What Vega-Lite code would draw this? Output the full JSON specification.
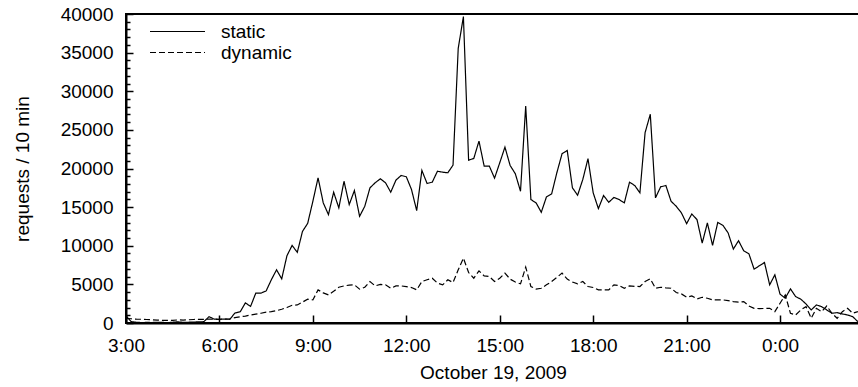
{
  "$schema": "https://vega.github.io/schema/vega-lite/v6.json",
  "autosize": {"type": "fit", "contains": "padding"},
  "width": 858,
  "height": 387,
  "padding": {"left": 13, "top": 5, "right": -2, "bottom": 5},
  "data": {"values": [
    {"t":"2009-10-19T03:00","static":910,"dynamic":600},
    {"t":"2009-10-19T03:10","static":170,"dynamic":550},
    {"t":"2009-10-19T03:20","static":100,"dynamic":500},
    {"t":"2009-10-19T03:30","static":50,"dynamic":480},
    {"t":"2009-10-19T03:40","static":80,"dynamic":450},
    {"t":"2009-10-19T03:50","static":60,"dynamic":420},
    {"t":"2009-10-19T04:00","static":100,"dynamic":380},
    {"t":"2009-10-19T04:10","static":80,"dynamic":350},
    {"t":"2009-10-19T04:20","static":50,"dynamic":330},
    {"t":"2009-10-19T04:30","static":100,"dynamic":350},
    {"t":"2009-10-19T04:40","static":150,"dynamic":400},
    {"t":"2009-10-19T04:50","static":80,"dynamic":380},
    {"t":"2009-10-19T05:00","static":100,"dynamic":420},
    {"t":"2009-10-19T05:10","static":120,"dynamic":450},
    {"t":"2009-10-19T05:20","static":150,"dynamic":480},
    {"t":"2009-10-19T05:30","static":170,"dynamic":480},
    {"t":"2009-10-19T05:40","static":820,"dynamic":500},
    {"t":"2009-10-19T05:50","static":500,"dynamic":480},
    {"t":"2009-10-19T06:00","static":480,"dynamic":480},
    {"t":"2009-10-19T06:10","static":500,"dynamic":500},
    {"t":"2009-10-19T06:20","static":480,"dynamic":550},
    {"t":"2009-10-19T06:30","static":1300,"dynamic":700},
    {"t":"2009-10-19T06:40","static":1450,"dynamic":800},
    {"t":"2009-10-19T06:50","static":2600,"dynamic":900},
    {"t":"2009-10-19T07:00","static":2150,"dynamic":1040},
    {"t":"2009-10-19T07:10","static":3860,"dynamic":1150},
    {"t":"2009-10-19T07:20","static":3860,"dynamic":1260},
    {"t":"2009-10-19T07:30","static":4160,"dynamic":1400},
    {"t":"2009-10-19T07:40","static":5600,"dynamic":1470},
    {"t":"2009-10-19T07:50","static":6880,"dynamic":1600},
    {"t":"2009-10-19T08:00","static":5720,"dynamic":1780},
    {"t":"2009-10-19T08:10","static":8700,"dynamic":2000},
    {"t":"2009-10-19T08:20","static":10040,"dynamic":2300},
    {"t":"2009-10-19T08:30","static":9150,"dynamic":2340},
    {"t":"2009-10-19T08:40","static":11860,"dynamic":2700},
    {"t":"2009-10-19T08:50","static":12900,"dynamic":3080},
    {"t":"2009-10-19T09:00","static":15760,"dynamic":2990},
    {"t":"2009-10-19T09:10","static":18800,"dynamic":4290},
    {"t":"2009-10-19T09:20","static":15550,"dynamic":3900},
    {"t":"2009-10-19T09:30","static":14030,"dynamic":3640},
    {"t":"2009-10-19T09:40","static":16930,"dynamic":4100},
    {"t":"2009-10-19T09:50","static":14900,"dynamic":4630},
    {"t":"2009-10-19T10:00","static":18350,"dynamic":4800},
    {"t":"2009-10-19T10:10","static":15330,"dynamic":4900},
    {"t":"2009-10-19T10:20","static":17150,"dynamic":4940},
    {"t":"2009-10-19T10:30","static":13810,"dynamic":4380},
    {"t":"2009-10-19T10:40","static":15110,"dynamic":4630},
    {"t":"2009-10-19T10:50","static":17500,"dynamic":5370},
    {"t":"2009-10-19T11:00","static":18150,"dynamic":4800},
    {"t":"2009-10-19T11:10","static":18670,"dynamic":5000},
    {"t":"2009-10-19T11:20","static":18150,"dynamic":4940},
    {"t":"2009-10-19T11:30","static":16930,"dynamic":4500},
    {"t":"2009-10-19T11:40","static":18490,"dynamic":4800},
    {"t":"2009-10-19T11:50","static":19100,"dynamic":4800},
    {"t":"2009-10-19T12:00","static":18930,"dynamic":4700},
    {"t":"2009-10-19T12:10","static":17280,"dynamic":4590},
    {"t":"2009-10-19T12:20","static":14550,"dynamic":4290},
    {"t":"2009-10-19T12:30","static":19750,"dynamic":5370},
    {"t":"2009-10-19T12:40","static":18060,"dynamic":5600},
    {"t":"2009-10-19T12:50","static":18230,"dynamic":5800},
    {"t":"2009-10-19T13:00","static":19650,"dynamic":5160},
    {"t":"2009-10-19T13:10","static":19520,"dynamic":4940},
    {"t":"2009-10-19T13:20","static":19450,"dynamic":5590},
    {"t":"2009-10-19T13:30","static":20440,"dynamic":5240},
    {"t":"2009-10-19T13:40","static":35550,"dynamic":6880},
    {"t":"2009-10-19T13:50","static":39660,"dynamic":8400},
    {"t":"2009-10-19T14:00","static":21080,"dynamic":6530},
    {"t":"2009-10-19T14:10","static":21300,"dynamic":5800},
    {"t":"2009-10-19T14:20","static":23550,"dynamic":6750},
    {"t":"2009-10-19T14:30","static":20300,"dynamic":6100},
    {"t":"2009-10-19T14:40","static":20300,"dynamic":6010},
    {"t":"2009-10-19T14:50","static":18750,"dynamic":5370},
    {"t":"2009-10-19T15:00","static":20740,"dynamic":5800},
    {"t":"2009-10-19T15:10","static":22770,"dynamic":6460},
    {"t":"2009-10-19T15:20","static":20390,"dynamic":5680},
    {"t":"2009-10-19T15:30","static":19320,"dynamic":5300},
    {"t":"2009-10-19T15:40","static":17060,"dynamic":5070},
    {"t":"2009-10-19T15:50","static":28100,"dynamic":7240},
    {"t":"2009-10-19T16:00","static":15980,"dynamic":4720},
    {"t":"2009-10-19T16:10","static":15550,"dynamic":4400},
    {"t":"2009-10-19T16:20","static":14330,"dynamic":4500},
    {"t":"2009-10-19T16:30","static":16330,"dynamic":4940},
    {"t":"2009-10-19T16:40","static":16720,"dynamic":5370},
    {"t":"2009-10-19T16:50","static":19450,"dynamic":5900},
    {"t":"2009-10-19T17:00","static":21910,"dynamic":6460},
    {"t":"2009-10-19T17:10","static":22340,"dynamic":5680},
    {"t":"2009-10-19T17:20","static":17500,"dynamic":5300},
    {"t":"2009-10-19T17:30","static":16540,"dynamic":5070},
    {"t":"2009-10-19T17:40","static":18580,"dynamic":5370},
    {"t":"2009-10-19T17:50","static":21270,"dynamic":4720},
    {"t":"2009-10-19T18:00","static":16850,"dynamic":4600},
    {"t":"2009-10-19T18:10","static":14810,"dynamic":4290},
    {"t":"2009-10-19T18:20","static":16500,"dynamic":4290},
    {"t":"2009-10-19T18:30","static":15630,"dynamic":4290},
    {"t":"2009-10-19T18:40","static":16250,"dynamic":4940},
    {"t":"2009-10-19T18:50","static":15980,"dynamic":4850},
    {"t":"2009-10-19T19:00","static":15550,"dynamic":4500},
    {"t":"2009-10-19T19:10","static":18230,"dynamic":4800},
    {"t":"2009-10-19T19:20","static":17800,"dynamic":4750},
    {"t":"2009-10-19T19:30","static":16850,"dynamic":4720},
    {"t":"2009-10-19T19:40","static":24640,"dynamic":5370},
    {"t":"2009-10-19T19:50","static":27020,"dynamic":5720},
    {"t":"2009-10-19T20:00","static":16200,"dynamic":4500},
    {"t":"2009-10-19T20:10","static":17630,"dynamic":4630},
    {"t":"2009-10-19T20:20","static":17800,"dynamic":4550},
    {"t":"2009-10-19T20:30","static":15760,"dynamic":4500},
    {"t":"2009-10-19T20:40","static":15110,"dynamic":3940},
    {"t":"2009-10-19T20:50","static":14250,"dynamic":3770},
    {"t":"2009-10-19T21:00","static":12860,"dynamic":3330},
    {"t":"2009-10-19T21:10","static":14120,"dynamic":3510},
    {"t":"2009-10-19T21:20","static":13380,"dynamic":3120},
    {"t":"2009-10-19T21:30","static":10350,"dynamic":3330},
    {"t":"2009-10-19T21:40","static":12950,"dynamic":3200},
    {"t":"2009-10-19T21:50","static":10040,"dynamic":2990},
    {"t":"2009-10-19T22:00","static":13030,"dynamic":2990},
    {"t":"2009-10-19T22:10","static":12640,"dynamic":2990},
    {"t":"2009-10-19T22:20","static":11650,"dynamic":2900},
    {"t":"2009-10-19T22:30","static":9570,"dynamic":2770},
    {"t":"2009-10-19T22:40","static":10650,"dynamic":2700},
    {"t":"2009-10-19T22:50","static":9350,"dynamic":2770},
    {"t":"2009-10-19T23:00","static":8960,"dynamic":2200},
    {"t":"2009-10-19T23:10","static":6970,"dynamic":1900},
    {"t":"2009-10-19T23:20","static":7400,"dynamic":1860},
    {"t":"2009-10-19T23:30","static":7830,"dynamic":1880},
    {"t":"2009-10-19T23:40","static":4940,"dynamic":1900},
    {"t":"2009-10-19T23:50","static":6240,"dynamic":1470},
    {"t":"2009-10-20T00:00","static":3730,"dynamic":2560},
    {"t":"2009-10-20T00:10","static":3210,"dynamic":3640},
    {"t":"2009-10-20T00:20","static":4420,"dynamic":1260},
    {"t":"2009-10-20T00:30","static":3420,"dynamic":1040},
    {"t":"2009-10-20T00:40","static":3080,"dynamic":1690},
    {"t":"2009-10-20T00:50","static":2470,"dynamic":2120},
    {"t":"2009-10-20T01:00","static":1690,"dynamic":610},
    {"t":"2009-10-20T01:10","static":2340,"dynamic":1900},
    {"t":"2009-10-20T01:20","static":2120,"dynamic":1470},
    {"t":"2009-10-20T01:30","static":1690,"dynamic":2200},
    {"t":"2009-10-20T01:40","static":1260,"dynamic":1260},
    {"t":"2009-10-20T01:50","static":1340,"dynamic":610},
    {"t":"2009-10-20T02:00","static":1170,"dynamic":1470},
    {"t":"2009-10-20T02:10","static":1040,"dynamic":1900},
    {"t":"2009-10-20T02:20","static":820,"dynamic":1260},
    {"t":"2009-10-20T02:30","static":170,"dynamic":1470}
  ]},
  "transform": [{"fold": ["static", "dynamic"], "as": ["series", "value"]}],
  "layer": [
    {
      "mark": {"type": "line", "color": "black", "strokeWidth": 1.2},
      "encoding": {
        "x": {
          "field": "t", "type": "temporal",
          "scale": {"domain": [{"year": 2009, "month": 10, "date": 19, "hours": 3}, {"year": 2009, "month": 10, "date": 20, "hours": 2, "minutes": 34}], "nice": false},
          "axis": {
            "title": "October 19, 2009",
            "format": "%-H:%M",
            "values": [
              {"year": 2009, "month": 10, "date": 19, "hours": 3},
              {"year": 2009, "month": 10, "date": 19, "hours": 6},
              {"year": 2009, "month": 10, "date": 19, "hours": 9},
              {"year": 2009, "month": 10, "date": 19, "hours": 12},
              {"year": 2009, "month": 10, "date": 19, "hours": 15},
              {"year": 2009, "month": 10, "date": 19, "hours": 18},
              {"year": 2009, "month": 10, "date": 19, "hours": 21},
              {"year": 2009, "month": 10, "date": 20, "hours": 0}
            ],
            "labelFlush": false,
            "labelOverlap": false,
            "tickSize": -8,
            "labelPadding": 21,
            "titlePadding": 8
          }
        },
        "y": {
          "field": "value", "type": "quantitative",
          "scale": {"domain": [0, 40000], "nice": false},
          "axis": {
            "orient": "left",
            "title": "requests / 10 min",
            "values": [0, 5000, 10000, 15000, 20000, 25000, 30000, 35000, 40000],
            "format": "d",
            "labelOverlap": false,
            "tickSize": -7,
            "labelPadding": 20,
            "titlePadding": 28
          }
        },
        "strokeDash": {
          "field": "series", "type": "nominal",
          "scale": {"domain": ["static", "dynamic"], "range": [[1, 0], [6, 3]]},
          "legend": {
            "title": null,
            "orient": "none",
            "legendX": 24,
            "legendY": 8,
            "padding": 0,
            "rowPadding": 1,
            "symbolType": "M-9.5,0H45.5",
            "symbolSize": 4,
            "symbolStrokeWidth": 1.2,
            "symbolStrokeColor": "black",
            "labelOffset": 52,
            "labelFontSize": 19,
            "labelColor": "black"
          }
        }
      }
    },
    {
      "mark": {"type": "line", "opacity": 0},
      "encoding": {
        "x": {"field": "t", "type": "temporal"},
        "y": {
          "field": "value", "type": "quantitative",
          "axis": {
            "orient": "right",
            "offset": {"expr": "-width"},
            "title": null,
            "labels": false,
            "domain": false,
            "values": [1000, 2000, 3000, 4000, 6000, 7000, 8000, 9000, 11000, 12000, 13000, 14000, 16000, 17000, 18000, 19000, 21000, 22000, 23000, 24000, 26000, 27000, 28000, 29000, 31000, 32000, 33000, 34000, 36000, 37000, 38000, 39000],
            "tickSize": 4
          }
        }
      }
    }
  ],
  "config": {
    "view": {"stroke": "black", "strokeWidth": 2},
    "font": "Liberation Sans",
    "axis": {
      "grid": false,
      "domainColor": "black",
      "domainWidth": 2,
      "tickColor": "black",
      "tickWidth": 1.5,
      "labelColor": "black",
      "titleColor": "black",
      "labelFontSize": 19,
      "titleFontSize": 19,
      "titleFontWeight": "normal"
    }
  }
}
